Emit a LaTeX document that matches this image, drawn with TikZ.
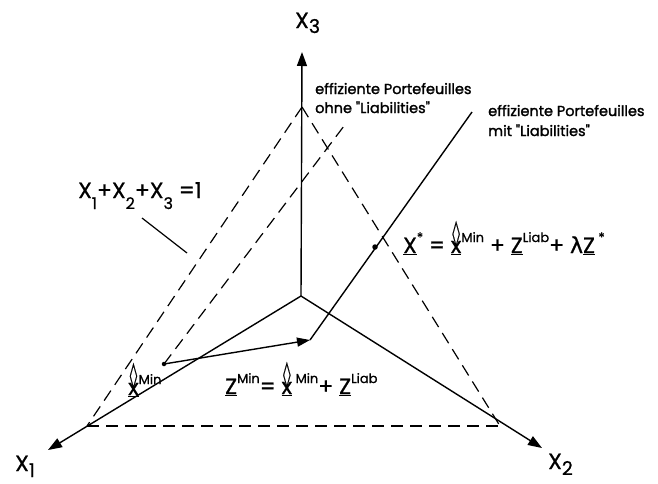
\documentclass[tikz,border=0pt]{standalone}
\usepackage{fontspec}
\setmainfont{Poppins}[FakeBold=0.8]
\newfontfamily\smf{Poppins}[FakeBold=1.6]
\newfontfamily\dvs{DejaVu Sans}[FakeBold=0.8]
\usetikzlibrary{arrows.meta}
\newcommand\lo[3]{\raisebox{#1}{\fontsize{#2}{#2}\selectfont #3}}
\newcommand\up[1]{\raisebox{0.5em}{\fontsize{13}{13}\selectfont #1}}
\newcommand\xmsym{\underline{\ooalign{x\cr\hidewidth\raisebox{0.52em}{\scalebox{1}[1.7]{\dvs\fontsize{15}{15}\selectfont ◊}}\hidewidth\cr}}}
\begin{document}
\begin{tikzpicture}[x=1pt,y=-1pt,
  ax/.style={line width=1.4pt,-{Triangle[length=14pt,width=10pt]}},
  dsh/.style={line width=1.2pt,dash pattern=on 12pt off 7pt},
  sol/.style={line width=1.4pt},
  big/.style={font=\fontsize{22}{26}\selectfont,inner sep=0pt,anchor=base west},
  small/.style={font=\smf\fontsize{14.5}{16}\selectfont,inner sep=0pt,anchor=base west},
  dotc/.style={circle,fill,inner sep=0pt,minimum size=#1},
  dotc/.default=5.5pt]
\useasboundingbox (0,0) rectangle (658,483);
% points
\coordinate (O) at (301,296);
\coordinate (t3) at (302,52);
\coordinate (t1) at (48,450);
\coordinate (t2) at (542,448);
\coordinate (A) at (302,107);
\coordinate (B) at (87,426);
\coordinate (C) at (500,426);
\coordinate (F) at (347,122);
\coordinate (P) at (310,340);
\coordinate (E) at (472,112);
\coordinate (lp1) at (142,218);
\coordinate (lp2) at (187,253);
\node[dotc=4.5pt] (xm) at (164,364) {};
\node[dotc] (xs) at (375,247) {};
% axes
\draw[ax] (O) -- (t3);
\draw[ax] (O) -- (t1);
\draw[ax] (O) -- (t2);
% simplex
\draw[dsh] (A) -- (B);
\draw[dsh] (A) -- (C);
\draw[dsh] (B) -- (C);
% efficient lines
\draw[dsh] (xm.center) -- (F);
\draw[sol] (P) -- (E);
\draw[sol,-{Triangle[length=13pt,width=9pt]}] (xm.center) -- (P);
\draw[line width=1.2pt] (lp1) -- (lp2);
% labels
\node[big] (l3) at (295,28) {X\lo{-5pt}{19}{3}};
\node[big] (l1) at (15,471) {X\lo{-6pt}{19}{1}};
\node[big] (l2) at (548,469) {X\lo{-6pt}{19}{2}};
\node[big] (eq) at (78,198) {X\lo{-11pt}{16}{1}+X\lo{-11pt}{16}{2}+X\lo{-11pt}{16}{3} =1};
\node[small] (lo1) at (315,94) {effiziente Portefeuilles};
\node[small] (lo2) at (315,113) {ohne "Liabilities"};
\node[small] (mi1) at (488,116) {effiziente Portefeuilles};
\node[small] (mi2) at (488,136) {mit "Liabilities"};
\node[big] (xsf) at (403,253) {\underline{X}\up{*} = \xmsym\up{Min} + \underline{Z}\up{Liab}+ {\dvs λ}\underline{Z}\up{ *}};
\node[big] (zf) at (225,394) {\underline{Z}\up{Min}= \xmsym\up{ Min}+ \underline{Z}\up{Liab}};
\node[big] (xml) at (128,395) {\xmsym\up{Min}};
\end{tikzpicture}
\end{document}
